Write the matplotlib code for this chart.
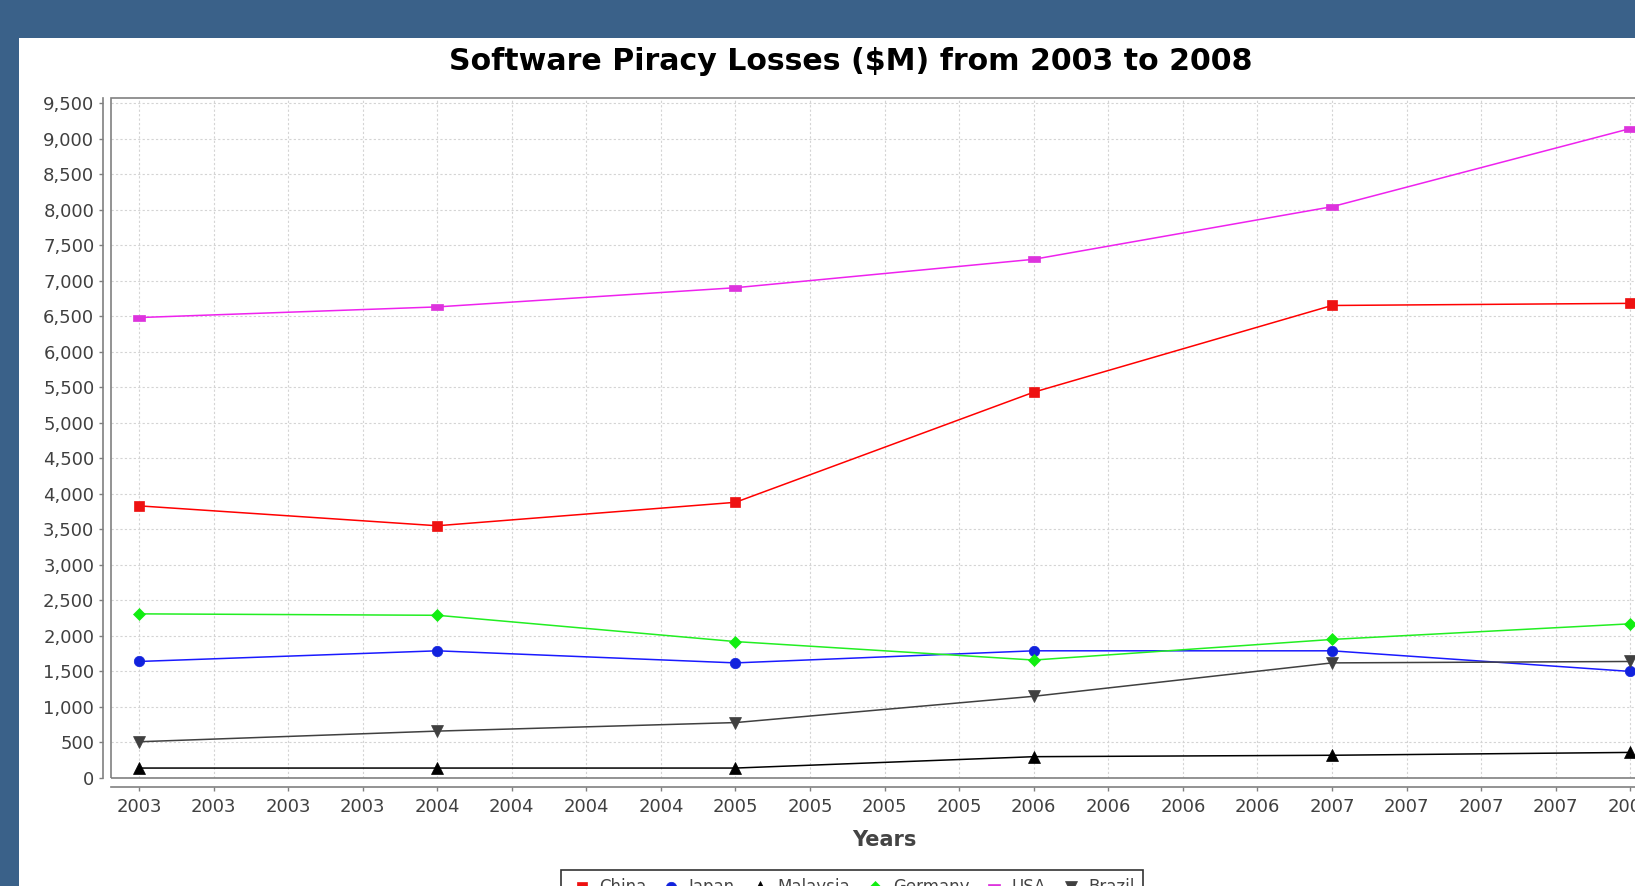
import matplotlib.pyplot as plt
from matplotlib.patches import Rectangle
from matplotlib.ticker import FixedLocator, FuncFormatter
import numpy as np

years = [2003, 2004, 2005, 2006, 2007, 2008]
china = [3830, 3550, 3880, 5430, 6650, 6680]
japan = [1640, 1790, 1620, 1790, 1790, 1500]
malaysia = [140, 140, 140, 300, 320, 360]
germany = [2310, 2290, 1920, 1660, 1950, 2170]
usa = [6480, 6630, 6900, 7300, 8040, 9140]
brazil = [510, 660, 780, 1150, 1620, 1640]

W, H = 1635, 886
fig = plt.figure(figsize=(W / 100, H / 100), dpi=100)
fig.patch.set_facecolor("#3a6189")
plt.rcParams["font.family"] = "DejaVu Sans"

# white chart panel
fig.add_artist(Rectangle((19 / W, 0), 1.2, 1 - 38 / H, transform=fig.transFigure,
                         facecolor="white", edgecolor="none", zorder=0))

left, right, top, bottom = 111, 1658, 98, 778
ax = fig.add_axes([left / W, 1 - bottom / H, (right - left) / W, (bottom - top) / H])
ax.set_facecolor("white")

rect_marker = [(-1, -0.6), (1, -0.6), (1, 0.6), (-1, 0.6), (-1, -0.6)]
series = [
    ("China", china, "#ff0000", "#ee1111", "s", 7.5),
    ("Japan", japan, "#1a1aff", "#1122dd", "o", 7.5),
    ("Malaysia", malaysia, "#000000", "#000000", "^", 8),
    ("Germany", germany, "#22ee22", "#11ee11", "D", 6.2),
    ("USA", usa, "#ee22ee", "#dd33dd", rect_marker, 8),
    ("Brazil", brazil, "#404040", "#404040", "v", 8),
]
for name, vals, lc, mc, mk, ms in series:
    ax.plot(years, vals, color=lc, lw=1.1, marker=mk, markersize=ms,
            markerfacecolor=mc, markeredgecolor=mc, markeredgewidth=0.5,
            label=name, clip_on=False, zorder=3)

x0 = 2003 - (139 - left) / 298.25
ax.set_xlim(x0, x0 + (right - left) / 298.25)
ax.set_ylim(0, 9570)

xt = [2003 + 0.25 * k for k in range(21)]
ax.xaxis.set_major_locator(FixedLocator(xt))
ax.xaxis.set_major_formatter(FuncFormatter(lambda v, p: str(int(np.floor(v + 1e-9)))))
ax.yaxis.set_major_locator(FixedLocator(np.arange(0, 9501, 500)))
ax.yaxis.set_major_formatter(FuncFormatter(lambda v, p: f"{int(v):,}"))

ax.grid(True, color="#d4d4d4", lw=0.8, ls=(0, (2, 2)))
ax.set_axisbelow(True)

for s in ["top", "right"]:
    ax.spines[s].set_visible(False)
ax.spines["left"].set_position(("outward", 6))
ax.spines["bottom"].set_position(("outward", 6.5))
for s in ["left", "bottom"]:
    ax.spines[s].set_color("#808080")
    ax.spines[s].set_linewidth(1.2)
ax.add_patch(Rectangle((0, 0), 1, 1, transform=ax.transAxes, fill=False,
                       edgecolor="#808080", lw=1.2, zorder=2, clip_on=False))

ax.tick_params(axis="both", colors="#808080", length=3, width=1, labelsize=13,
               labelcolor="#404040")
ax.tick_params(axis="x", pad=5)
ax.tick_params(axis="y", pad=3)

ax.set_xlabel("Years", fontsize=15, fontweight="bold", color="#444444", labelpad=10)
fig.text(851 / W, 1 - 62 / H, "Software Piracy Losses ($M) from 2003 to 2008",
         ha="center", va="center", fontsize=21.6, fontweight="bold", color="black")

leg = fig.legend(loc="upper center", bbox_to_anchor=(852 / W, 1 - 870 / H), ncol=6,
                 fontsize=12, frameon=True, fancybox=False, edgecolor="black",
                 handlelength=1.5, handletextpad=0.3, columnspacing=0.75,
                 borderpad=0.5, borderaxespad=0, labelcolor="#444444")
leg.get_frame().set_linewidth(1.2)

fig.savefig("out.png", dpi=100, facecolor=fig.get_facecolor())
